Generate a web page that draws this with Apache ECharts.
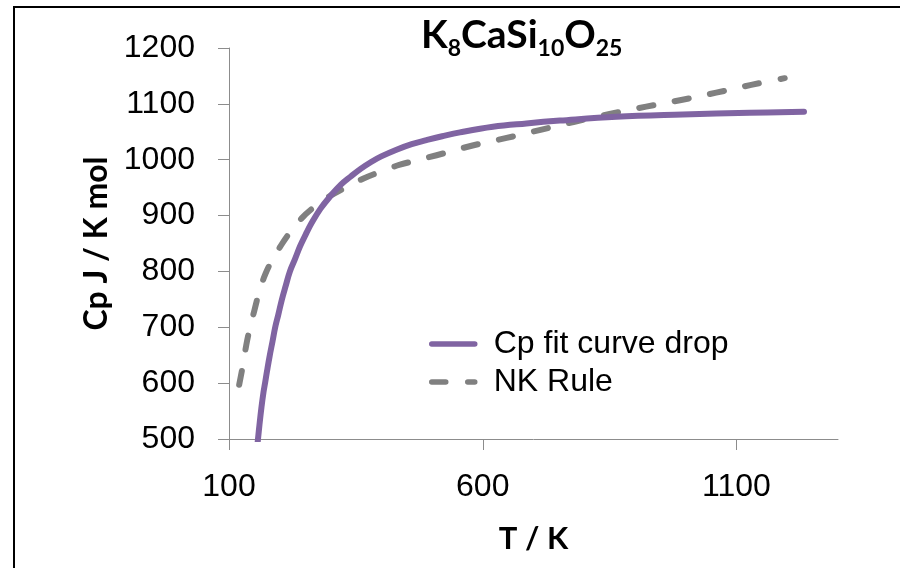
<!DOCTYPE html>
<html>
<head>
<meta charset="utf-8">
<script src="https://cdn.jsdelivr.net/npm/echarts@6/dist/echarts.min.js"></script>
<style>
html,body{margin:0;padding:0;background:#fff;}
#chart{width:900px;height:568px;}
</style>
</head>
<body>
<div id="chart"></div>
<script>
// Data
var seriesNames = ['Cp fit curve drop', 'NK Rule'];

var tFit  = [156, 160, 164, 168, 171, 175, 180, 186, 191, 197, 204, 212, 220, 230, 240, 251, 263, 280, 299, 320, 340, 360, 380, 400, 430, 460, 489, 520, 555, 620, 686, 752, 863, 994, 1126, 1233];
var cpFit = [490, 525, 557, 584, 600, 622, 648, 676, 700, 722, 749, 775, 800, 822, 845, 866, 887, 912, 934, 955, 970, 984, 996, 1006, 1018, 1028, 1035, 1042, 1049, 1059, 1065, 1070, 1077, 1081, 1084, 1086];

var tNK  = [120, 127, 134, 141, 150, 160, 172, 186, 200, 217, 243, 266, 299, 325, 364, 400, 437, 509, 578, 647, 716, 781, 850, 922, 991, 1060, 1129, 1195];
var cpNK = [597, 630, 668, 698, 730, 765, 796, 822, 843, 866, 895, 914, 935, 948, 966, 979, 991, 1008, 1025, 1039, 1054, 1068, 1082, 1095, 1107, 1120, 1134, 1146];

var xTicks = [100, 600, 1100];
var yTicks = [500, 600, 700, 800, 900, 1000, 1100, 1200];

function pairs(xs, ys) {
  var out = [];
  for (var i = 0; i < xs.length; i++) out.push([xs[i], ys[i]]);
  return out;
}

var chart = echarts.init(document.getElementById('chart'), null, {renderer: 'canvas'});
var labelFont = '"Liberation Sans", Arial, sans-serif';
var titleFont = 'Lato, "Open Sans", sans-serif';
var axisColor = '#8c8c8c';
var purple = '#8064A2';
var gray = '#808080';
var plain = function (v) { return String(v); };

chart.setOption({
  animation: false,
  backgroundColor: '#ffffff',
  graphic: [{
    type: 'rect',
    shape: {x: 14, y: 7, width: 1000, height: 1000},
    style: {fill: 'none', stroke: '#000', lineWidth: 2},
    silent: true
  }],
  title: {
    text: '{a|K}{b|8}{a|CaSi}{b|10}{a|O}{b|25}',
    left: 421,
    top: 10,
    padding: 0,
    textStyle: {
      rich: {
        a: {fontFamily: titleFont, fontWeight: 'bold', fontSize: 39, lineHeight: 50, color: '#000', verticalAlign: 'middle'},
        b: {fontFamily: titleFont, fontWeight: 'bold', fontSize: 23, lineHeight: 22, color: '#000', verticalAlign: 'bottom'}
      }
    }
  },
  legend: {
    orient: 'vertical',
    left: 429,
    top: 328,
    padding: 0,
    itemGap: 6,
    itemWidth: 43,
    itemHeight: 14,
    data: seriesNames,
    itemStyle: {opacity: 0},
    lineStyle: {width: 5.5, cap: 'round'},
    textStyle: {fontFamily: labelFont, fontSize: 32, color: '#000', padding: [0, 0, 0, 14]}
  },
  grid: {left: 229, right: 62, top: 48, bottom: 129, containLabel: false},
  xAxis: {
    type: 'value',
    min: 100,
    max: 1300,
    interval: 500,
    name: 'T / K',
    nameLocation: 'middle',
    nameGap: 84,
    nameTextStyle: {fontFamily: titleFont, fontWeight: 'bold', fontSize: 31, color: '#000'},
    axisLine: {show: true, lineStyle: {color: axisColor, width: 1}},
    axisTick: {show: true, length: 11, inside: false, customValues: xTicks, lineStyle: {color: axisColor, width: 1}},
    axisLabel: {margin: 32, fontFamily: labelFont, fontSize: 32, color: '#000', customValues: xTicks, formatter: plain},
    splitLine: {show: false}
  },
  yAxis: {
    type: 'value',
    min: 500,
    max: 1200,
    interval: 100,
    name: 'Cp J / K mol',
    nameLocation: 'middle',
    nameGap: 116,
    nameTextStyle: {fontFamily: titleFont, fontWeight: 'bold', fontSize: 32, color: '#000'},
    axisLine: {show: true, lineStyle: {color: axisColor, width: 1}},
    axisTick: {show: true, length: 11, inside: false, customValues: yTicks, lineStyle: {color: axisColor, width: 1}},
    axisLabel: {margin: 34, fontFamily: labelFont, fontSize: 32, color: '#000', customValues: yTicks, formatter: plain},
    splitLine: {show: false}
  },
  series: [
    {
      name: seriesNames[0],
      type: 'line',
      data: pairs(tFit, cpFit),
      showSymbol: false,
      symbol: 'none',
      smooth: 0.4,
      clip: true,
      color: purple,
      lineStyle: {color: purple, width: 6, cap: 'round', join: 'round'},
      z: 3
    },
    {
      name: seriesNames[1],
      type: 'line',
      data: pairs(tNK, cpNK),
      showSymbol: false,
      symbol: 'none',
      smooth: 0.4,
      clip: true,
      color: gray,
      lineStyle: {color: gray, width: 6, type: [14, 22], cap: 'round', join: 'round'},
      z: 2
    }
  ]
});
</script>
</body>
</html>
